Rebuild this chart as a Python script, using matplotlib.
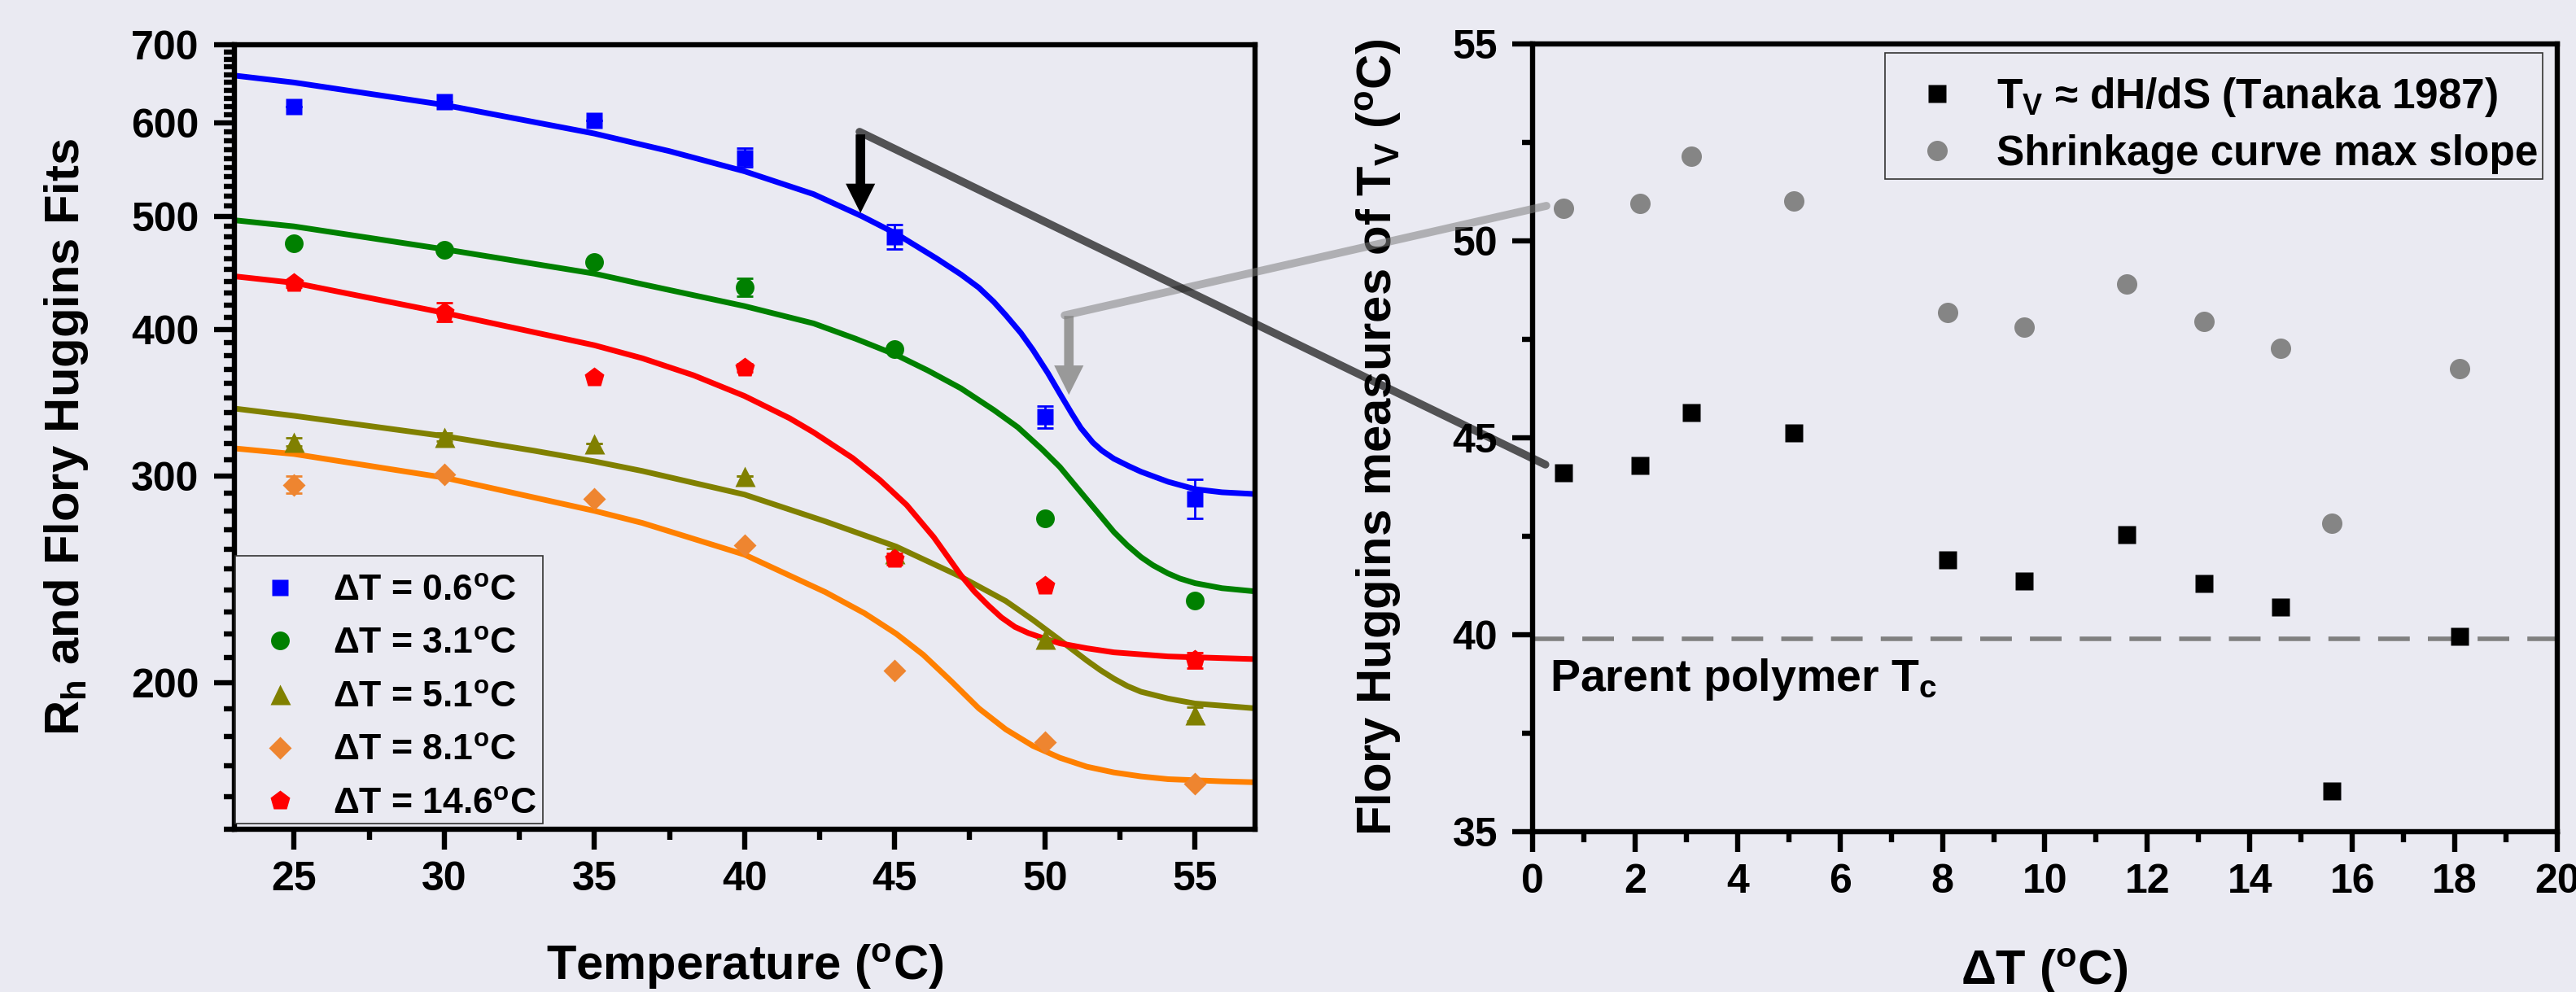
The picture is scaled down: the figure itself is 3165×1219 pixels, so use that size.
import matplotlib
matplotlib.use('Agg')
import matplotlib.pyplot as plt
from matplotlib.patches import ConnectionPatch, Rectangle
from matplotlib.ticker import FixedLocator, NullFormatter, MultipleLocator, FuncFormatter

plt.rcParams['font.family'] = ['Liberation Sans', 'DejaVu Sans']
plt.rcParams['font.weight'] = 'bold'
plt.rcParams['mathtext.default'] = 'regular'

BG = '#EAEAF2'

# ---- left panel: hydrodynamic radius vs temperature ----
temps = [25, 30, 35, 40, 45, 50, 55]
dt_labels = ['ΔT = 0.6$^o$C', 'ΔT = 3.1$^o$C', 'ΔT = 5.1$^o$C',
             'ΔT = 8.1$^o$C', 'ΔT = 14.6$^o$C']

rh_06 = [620, 626, 603, 561, 480, 337, 287]
rh_31 = [474, 468, 457, 435, 385, 276, 235]
rh_51 = [321, 324, 320, 300, 258, 218, 188]
rh_81 = [295, 301, 287, 262, 205, 178, 164]
rh_146 = [438, 414, 364, 371, 255, 242, 209]

err_06 = [0, 0, 0, 10, 11.5, 7.3, 11]
err_31 = [0, 0, 0, 7.8, 0, 0, 0]
err_51 = [2.5, 2.5, 0, 0, 2.5, 0, 2.5]
err_81 = [5, 0, 0, 0, 0, 0, 0]
err_146 = [3, 7.7, 0, 3, 3, 0, 3.3]

# Flory Huggins fit curves
fit_t_06 = [23.0, 25.0, 30.0, 35.0, 37.5, 40.0, 42.3, 43.9, 45.05, 46.4, 47.2, 47.8, 48.3,
            48.7, 49.2, 49.6, 50.1, 50.5, 50.9, 51.2, 51.6, 51.9, 52.3, 52.8, 53.2, 54.1,
            55.0, 55.9, 57.0]
fit_06 = [659, 650, 622, 588, 568, 546, 522, 500, 483, 460, 446, 434.5, 422.5,
          411.6, 397.5, 384.6, 367.4, 352.9, 339.2, 329.8, 320.5, 315.5, 310.5, 306, 302.7, 296.8,
          292.5, 290.7, 289.7]

fit_t_31 = [23.0, 25.0, 30.0, 35.0, 36.6, 40.0, 42.3, 43.7, 45.05, 46.1, 47.2, 48.3, 49.1,
            49.9, 50.5, 51.4, 52.3, 52.75, 53.2, 53.6, 54.1, 54.5, 55.0, 55.9, 57.0]
fit_31 = [496, 490, 468.5, 446.6, 437.4, 419, 405, 393, 380.7, 369.3, 356.6, 341.7, 330.3,
          316.4, 305.5, 286.6, 268.9, 261.9, 256, 251.9, 247.9, 245.4, 243.2, 240.8, 239.3]

fit_t_51 = [23.0, 25.0, 30.0, 33.0, 35.0, 36.6, 40.0, 42.7, 45.05, 47.2, 48.7, 49.6, 50.5,
            51.4, 51.85, 52.3, 52.75, 53.2, 54.1, 55.0, 57.0]
fit_51 = [342.7, 337.8, 324.6, 315.4, 308.9, 303.1, 289.4, 274.5, 261.3, 246.3, 234.8, 226.3,
          217.5, 208.9, 205.0, 201.6, 198.7, 196.5, 193.9, 192.0, 190.2]

fit_t_81 = [23.0, 25.0, 30.0, 35.0, 36.6, 40.0, 42.7, 44.0, 45.05, 45.95, 46.9, 47.8, 48.7,
            49.6, 50.5, 51.4, 52.3, 53.2, 54.1, 55.9, 57.0]
fit_81 = [316.9, 313.4, 299.2, 280.3, 273.7, 257.2, 238.9, 229.2, 220.2, 211.3, 200.4, 190.2,
          182.5, 176.7, 172.6, 169.6, 167.7, 166.4, 165.5, 164.8, 164.5]

fit_t_146 = [23.0, 25.0, 30.0, 35.0, 36.6, 38.3, 40.0, 41.5, 42.3, 43.6, 44.5, 45.4, 46.3,
             47.2, 47.65, 48.1, 48.55, 49.0, 49.45, 49.9, 50.5, 51.4, 52.3, 54.1, 57.0]
fit_146 = [444.3, 438.6, 413.5, 388, 378.2, 365.8, 351.2, 336.2, 327.0, 310.9, 297.9, 283.5, 266.2,
           247.1, 239.3, 233.0, 227.4, 223.2, 220.5, 218.5, 216.1, 214, 212.3, 210.6, 209.5]

# ---- right panel: T_V estimates vs ΔT ----
delta_t = [0.6, 2.1, 3.1, 5.1, 8.1, 9.6, 11.6, 13.1, 14.6, 15.6, 18.1]
tv_tanaka = [44.11, 44.30, 45.64, 45.12, 41.90, 41.36, 42.55, 41.30, 40.70, 36.04, 39.95]
tv_shrink = [50.83, 50.95, 52.14, 51.01, 48.18, 47.82, 48.91, 47.96, 47.28, 42.84, 46.76]
parent_tc = 39.9


fig = plt.figure(figsize=(31.65, 12.19), dpi=100, facecolor=BG)
ax1 = fig.add_axes([0.09084, 0.16407, 0.39637, 0.79081], facecolor=BG)
ax2 = fig.add_axes([0.59494, 0.16161, 0.39779, 0.79409], facecolor=BG)

series = [
    (rh_06, err_06, fit_t_06, fit_06, 's', 15, '#0000FF', '#0000FF'),
    (rh_31, err_31, fit_t_31, fit_31, 'o', 16.5, '#008000', '#008000'),
    (rh_51, err_51, fit_t_51, fit_51, '^', 18, '#808000', '#808000'),
    (rh_81, err_81, fit_t_81, fit_81, 'D', 14.5, '#EE8530', '#FF8000'),
    (rh_146, err_146, fit_t_146, fit_146, 'p', 18.5, '#FF0000', '#FF0000'),
]

for (vals, err, ft, fv, mk, ms, mc, lc), lab in zip(series, dt_labels):
    ax1.plot(ft, fv, color=lc, lw=5, zorder=2, solid_capstyle='butt',
             solid_joinstyle='round')
for (vals, err, ft, fv, mk, ms, mc, lc), lab in zip(series, dt_labels):
    ax1.errorbar(temps, vals, yerr=err, fmt='none', ecolor=mc, elinewidth=2,
                 capsize=7, capthick=2, zorder=3)
    ax1.plot(temps, vals, ls='none', marker=mk, ms=ms, color=mc, mec='none',
             label=lab, zorder=4)

ax1.set_yscale('log')
ax1.set_xlim(23, 57)
ax1.set_ylim(150, 700)
ax1.xaxis.set_major_locator(MultipleLocator(5))
ax1.xaxis.set_minor_locator(MultipleLocator(2.5))
ax1.yaxis.set_major_locator(FixedLocator([200, 300, 400, 500, 600, 700]))
ax1.yaxis.set_minor_locator(FixedLocator([v for v in range(150, 700, 10) if v % 100 != 0]))
ax1.yaxis.set_major_formatter(FuncFormatter(lambda v, p: '%d' % v))
ax1.yaxis.set_minor_formatter(NullFormatter())

# legend frames drawn separately so the entries can be placed freely
ax1.add_patch(Rectangle((0.0012, 0.00726), 0.3013, 0.3413, transform=ax1.transAxes,
                        facecolor=BG, edgecolor='#333333', lw=1.2, zorder=4.8, clip_on=False))
ax1.legend(loc='center left', bbox_to_anchor=(0.02375, 0.168), borderaxespad=0,
           borderpad=0, fontsize=32, frameon=False, handlelength=1.2,
           handletextpad=0.86, labelspacing=0.554)

# right panel
ax2.axhline(parent_tc, color='#808080', lw=4, ls=(0, (7, 4)), zorder=1)
ax2.plot(delta_t, tv_tanaka, ls='none', marker='s', ms=16.5, color='black', mec='none',
         label='T$_V$ ≈ dH/dS (Tanaka 1987)', zorder=3)
ax2.plot(delta_t, tv_shrink, ls='none', marker='o', ms=18, color='#858585', mec='none',
         label='Shrinkage curve max slope', zorder=3)
ax2.text(0.33, 38.57, 'Parent polymer T$_c$', fontsize=40, ha='left', va='baseline')

ax2.set_xlim(0, 20)
ax2.set_ylim(35, 55)
ax2.xaxis.set_major_locator(MultipleLocator(2))
ax2.xaxis.set_minor_locator(MultipleLocator(1))
ax2.yaxis.set_major_locator(MultipleLocator(5))
ax2.yaxis.set_minor_locator(MultipleLocator(2.5))

ax2.add_patch(Rectangle((0.3439, 0.8285), 0.6418, 0.1601, transform=ax2.transAxes,
                        facecolor=BG, edgecolor='#333333', lw=1.2, zorder=4.8, clip_on=False))
ax2.legend(loc='center left', bbox_to_anchor=(0.3703, 0.8972), borderaxespad=0,
           borderpad=0, fontsize=37, frameon=False, handlelength=1.2,
           handletextpad=0.817, labelspacing=0.36)

for ax in (ax1, ax2):
    ax.grid(False)
    ax.tick_params(which='major', direction='out', length=18, width=4.6, labelsize=36,
                   top=False, right=False)
    ax.tick_params(which='minor', direction='out', length=9.5, width=4.6,
                   top=False, right=False)
    ax.tick_params(axis='y', which='major', pad=13)
    ax.tick_params(axis='x', which='major', pad=10)
    for s in ax.spines.values():
        s.set_linewidth(4.6)
        s.set_color('black')

# axis labels
fig.text(82 / 3165, 1 - 537 / 1219, 'R$_h$ and Flory Huggins Fits', rotation=90,
         ha='center', va='center', fontsize=43)
fig.text(915 / 3165, 1 - 1188 / 1219, 'Temperature ($^o$C)', ha='center', va='center',
         fontsize=43)
fig.text(1694 / 3165, 1 - 537 / 1219, 'Flory Huggins measures of T$_V$ ($^o$C)',
         rotation=90, ha='center', va='center', fontsize=43)
fig.text(2512 / 3165, 1 - 1194 / 1219, 'ΔT ($^o$C)', ha='center', va='center', fontsize=43)

# arrows marking the transition on the 0.6 C curve
ax1.annotate('', xy=(50.8, 352), xytext=(50.8, 411),
             arrowprops=dict(facecolor='#999999', edgecolor='none', width=8.4,
                             headwidth=26, headlength=26, shrink=0), zorder=6)
ax1.annotate('', xy=(43.86, 503), xytext=(43.86, 587),
             arrowprops=dict(facecolor='black', edgecolor='none', width=8.4,
                             headwidth=26, headlength=26, shrink=0), zorder=6)

# lines linking the curves to the right panel points
con_light = ConnectionPatch(xyA=(50.66, 411.5), coordsA=ax1.transData,
                            xyB=(0.27, 50.89), coordsB=ax2.transData,
                            color='#808080', alpha=0.55, lw=7, zorder=10)
con_dark = ConnectionPatch(xyA=(43.83, 590), coordsA=ax1.transData,
                           xyB=(0.25, 44.32), coordsB=ax2.transData,
                           color='black', alpha=0.65, lw=7, zorder=11)
fig.add_artist(con_light)
fig.add_artist(con_dark)

fig.savefig('out.png', dpi=100, facecolor=BG)
